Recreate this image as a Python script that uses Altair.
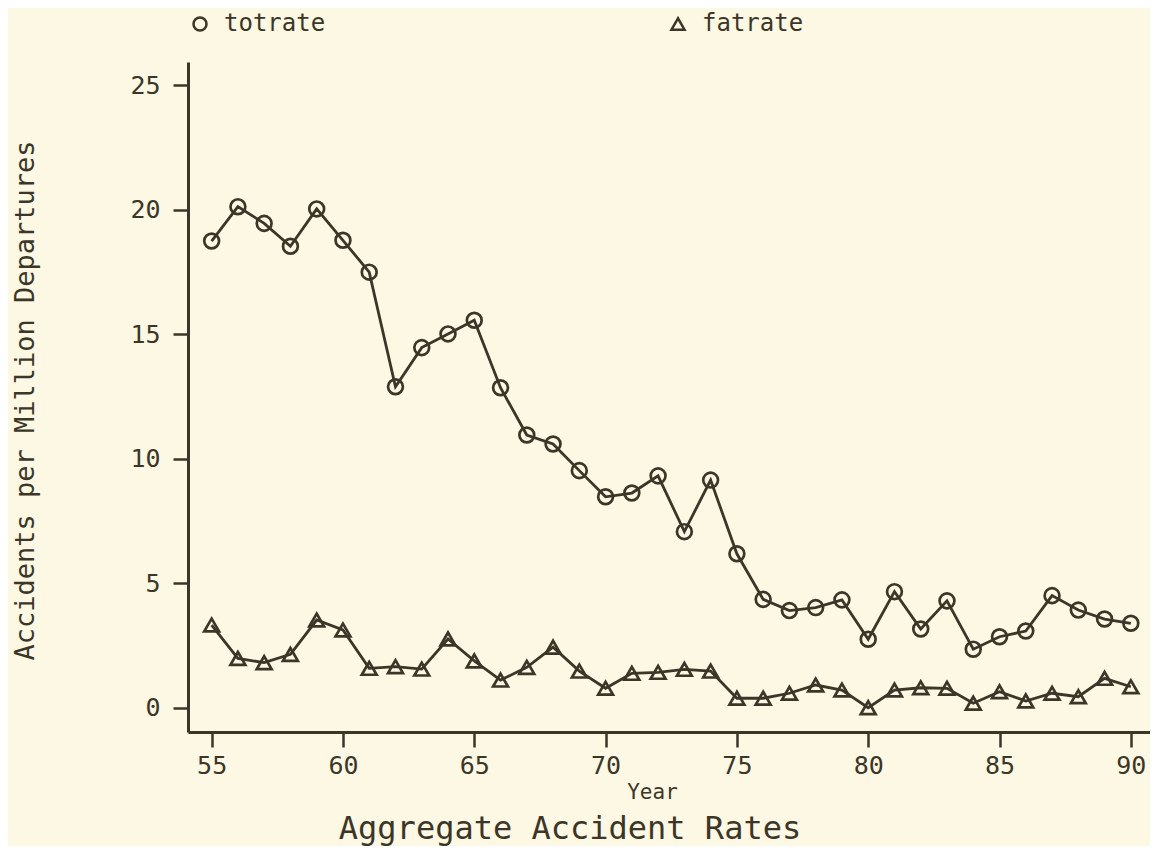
import altair as alt
import pandas as pd

years = list(range(55, 91))
totrate = [18.74, 20.12, 19.45, 18.53, 20.03, 18.77, 17.49, 12.89, 14.46, 15.01,
           15.56, 12.85, 10.95, 10.59, 9.52, 8.47, 8.62, 9.31, 7.07, 9.14,
           6.18, 4.35, 3.90, 4.02, 4.33, 2.75, 4.66, 3.16, 4.29, 2.35,
           2.85, 3.08, 4.50, 3.92, 3.56, 3.39]
fatrate = [3.32, 1.98, 1.81, 2.14, 3.52, 3.12, 1.58, 1.65, 1.55, 2.76,
           1.88, 1.11, 1.62, 2.43, 1.47, 0.78, 1.38, 1.42, 1.54, 1.47,
           0.38, 0.38, 0.58, 0.91, 0.71, 0.00, 0.71, 0.80, 0.78, 0.18,
           0.64, 0.27, 0.58, 0.44, 1.18, 0.84]
series_names = ["totrate", "fatrate"]
x_ticks = [55, 60, 65, 70, 75, 80, 85, 90]
y_ticks = [0, 5, 10, 15, 20, 25]

rows = []
for name, vals in zip(series_names, [totrate, fatrate]):
    for yr, v in zip(years, vals):
        rows.append({"Year": yr, "rate": v, "series": name})
df = pd.DataFrame(rows)

INK = "#3b3628"
BG = "#fcf8e3"
FONT = "DejaVu Sans Mono"

x = alt.X("Year:Q",
          scale=alt.Scale(domain=[54.1, 90.73], nice=False, zero=False),
          axis=alt.Axis(values=x_ticks, title="Year", grid=False,
                        labelFontSize=25, titleFontSize=21, titleFontWeight="normal",
                        titleX=464, titleY=66, titleAlign="center",
                        titleBaseline="alphabetic",
                        tickSize=15, labelPadding=6, labelFlush=False))
y = alt.Y("rate:Q",
          scale=alt.Scale(domain=[-0.976, 25.93], nice=False, zero=False),
          axis=alt.Axis(values=y_ticks, title="Accidents per Million Departures",
                        grid=False, labelFontSize=25, titleFontSize=27,
                        titleFontWeight="normal", titleAngle=270,
                        titleX=-163, titleY=338, titleAlign="center",
                        titleBaseline="middle",
                        tickSize=15, labelPadding=13))

shape = alt.Shape("series:N",
                  scale=alt.Scale(domain=series_names, range=["circle", "triangle-up"]),
                  legend=alt.Legend(title=None, orient="none", direction="horizontal",
                                    legendX=0, legendY=-50, columnPadding=340,
                                    labelFontSize=24, symbolSize=170,
                                    symbolStrokeWidth=2.5, symbolStrokeColor=INK,
                                    symbolFillColor="transparent", labelOffset=12))

lines = alt.Chart(df).mark_line(color=INK, strokeWidth=2.8).encode(
    x=x, y=y, detail="series:N")
points = alt.Chart(df).mark_point(filled=False, color=INK, strokeWidth=2.7,
                                  size=220, opacity=1).encode(
    x=x, y=y, shape=shape)

chart = alt.layer(lines, points).properties(
    width=962, height=670,
    autosize=alt.AutoSizeParams(type="none"),
    padding={"left": 180, "top": 54, "right": 0, "bottom": 114},
    background=BG,
    title=alt.TitleParams("Aggregate Accident Rates", orient="bottom",
                          anchor="middle", dx=-99, offset=12, fontSize=32,
                          fontWeight="normal", font=FONT, color=INK),
).configure_view(stroke=None).configure_axis(
    domainColor=INK, domainWidth=3, tickColor=INK, tickWidth=2.5,
    labelColor=INK, titleColor=INK, labelFont=FONT, titleFont=FONT,
).configure_legend(labelFont=FONT, labelColor=INK)

chart.save("out.html", embed_options={"renderer": "svg", "actions": False})
